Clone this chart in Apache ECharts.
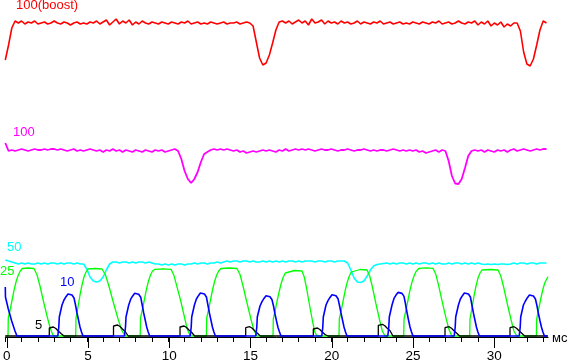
<!DOCTYPE html>
<html>
<head>
<meta charset="utf-8">
<script src="https://cdn.jsdelivr.net/npm/echarts@6/dist/echarts.min.js"></script>
<style>
html,body{margin:0;padding:0;background:#fff;}
#chart{width:570px;height:363px;}
</style>
</head>
<body>
<div id="chart"></div>
<script>
// time axis (ms)
const xTicks = [0, 5, 10, 15, 20, 25, 30];
const xUnit = 'мс';
// sampled traces (one sample per SAMPLE_MS), values = trace level in screen-units above baseline
const SAMPLE_MS = 0.2;
const red100boost = [
 277,292,309,316,
 314,316,313,315,314,316,313,314,315,313,314,316,314,313,315,314,312,314,315,313,314,
 313,315,314,316,313,315,317,312,315,318,313,316,314,317,312,315,313,316,314,313,315,314,313,315,314,
 313,315,314,313,315,314,316,313,314,315,313,314,313,315,314,313,314,315,313,314,314,315,313,314,315,
 314,311,295,279,272,274,282,294,307,315,316,
 314,316,313,315,317,314,316,312,318,314,315,317,313,316,314,315,313,316,314,315,313,314,316,313,315,
 314,313,315,314,316,313,314,315,313,314,315,313,314,313,315,314,313,315,314,313,315,314,316,313,314,
 315,313,314,316,314,313,315,314,316,312,315,313,316,311,314,312,315,310,313,311,314,
 314,306,285,273,271,278,292,307,316,314
];
const magenta100 = [
 194,186,
 187,186,187,188,187,186,187,188,187,187,188,187,188,188,187,188,187,186,187,188,186,187,186,187,188,
 187,186,187,185,187,186,188,186,187,185,187,186,185,187,186,185,187,186,185,187,186,187,185,186,187,188,
 186,178,166,158,154,158,165,175,183,185,187,
 188,187,188,187,188,187,186,187,185,186,184,185,186,185,186,187,186,187,186,185,187,186,188,186,187,188,
 187,188,187,188,187,186,187,188,187,187,188,187,186,187,187,188,187,186,187,187,188,187,186,187,186,187,
 187,186,187,188,187,186,187,186,187,186,187,185,186,184,185,186,187,185,187,
 186,176,161,153.5,153,158,169,181,186,187,
 186,187,185,187,186,185,187,186,187,185,187,188,186,187,188,187,186,187,188,187,188,188
];
const cyan50 = [
 77,76,75,74,
 73,74,73,74,73,73,74,73,74,73,74,74,73,74,73,74,74,73,74,73,
 73,68,60,56,55,56,60,67,73,75,
 75,74,75,75,74,75,74,75,75,74,
 75,74,73,73,72,73,72,73,72,73,
 73,72,73,73,74,73,74,74,73,74,
 74,75,74,75,76,75,76,76,75,76,
 76,75,76,75,75,76,75,76,75,76,
 75,76,75,76,76,75,76,75,76,76,
 76,75,76,76,75,76,76,75,76,76,
 76,74,67,59,55,54.5,56,61,67,71,72.5,73,
 73.5,74,73,74,73,74,74,73,74,73,74,73,74,74,73,74,73,74,73,73,74,73,74,74,73,74,73,74,73,74,
 73,72.5,73,72.5,73,72.5,73,73,72.5,73,74,73,74,74,73,74,74,73,74,74,74
];
// [ms, level] pairs
const green25 = [
 [0,1],[0.166,1],[0.184,19],[0.307,28],[0.429,38],[0.552,48],[0.675,56],[0.798,62],[0.920,66],[1.043,68.5],[1.393,69],[1.761,68.5],[1.939,62.5],[2.120,51.5],[2.359,34.5],[2.598,18.5],[2.779,7.5],[2.957,1],
 [4.319,1],[4.337,19],[4.460,30],[4.583,42],[4.706,52],[4.828,60],[4.951,65],[5.074,68],[5.503,68.5],[5.933,68],[6.147,62],[6.356,51],[6.638,34],[6.920,18],[7.135,7],[7.344,1],
 [8.276,1],[8.294,19],[8.417,28],[8.540,38],[8.663,48],[8.785,56],[8.908,62],[9.031,66],[9.184,67.7],[9.675,68.2],[10.166,67.7],[10.344,61.7],[10.525,50.7],[10.764,36],[11.003,19],[11.184,6.7],[11.362,1],
 [12.337,1],[12.356,19],[12.479,28],[12.601,38],[12.724,48],[12.847,56],[12.969,62],[13.092,66],[13.233,68.5],[13.724,69],[14.215,68.5],[14.399,62.5],[14.577,51.5],[14.822,34.5],[15.061,18.5],[15.239,7.5],[15.423,1],
 [16.423,1],[16.442,18],[16.564,27],[16.687,37],[16.810,46],[16.933,54],[17.055,60],[17.178,64],[17.282,66],[17.742,66.5],[18.202,66],[18.340,60],[18.479,49],[18.663,32],[18.847,16],[18.985,5],[19.123,1],
 [20.472,1],[20.491,18],[20.613,27],[20.736,37],[20.859,47],[20.982,55],[21.104,61],[21.227,65],[21.331,67],[21.761,67.5],[22.190,67],[22.356,61],[22.521,50],[22.742,33],[22.963,17],[23.129,6],[23.294,1],
 [24.442,1],[24.460,18],[24.583,27],[24.706,37],[24.828,47],[24.951,55],[25.074,61],[25.196,65.5],[25.380,68.7],[25.810,69.2],[26.239,68.7],[26.411,62.7],[26.583,51.7],[26.813,34.7],[27.043,18.7],[27.215,7.7],[27.387,1],
 [28.491,1],[28.509,18],[28.632,29],[28.755,41],[28.877,51],[29.000,59],[29.123,64],[29.245,67],[29.736,67.5],[30.227,67],[30.399,61],[30.571,50],[30.801,33],[31.031,17],[31.202,6],[31.374,1],
 [32.583,1],[32.601,18],[32.724,28],[32.847,38],[32.969,47],[33.092,54],[33.215,58],[33.294,60.3]
];
const blue10 = [
 [0,50],[0.01,40],[0.184,28],[0.393,16],[0.595,6],[0.718,1],
 [3.221,1],[3.282,10],[3.313,20],[3.479,32],[3.601,37],[3.724,40.3],[3.847,43],[3.969,43.7],[4.092,42],[4.215,39],[4.307,32],[4.399,24],[4.491,17],[4.583,10],[4.675,5],[4.767,1],
 [7.313,1],[7.374,10],[7.405,20],[7.571,32],[7.693,37.8],[7.816,41.1],[7.939,43.8],[8.061,44.5],[8.184,42.8],[8.307,39.8],[8.399,32],[8.491,24],[8.583,17],[8.675,10],[8.767,5],[8.859,1],
 [11.344,1],[11.405,10],[11.436,20],[11.602,32],[11.724,38],[11.847,41.3],[11.970,44],[12.092,44.7],[12.215,43],[12.338,40],[12.430,32],[12.522,24],[12.614,17],[12.706,10],[12.798,5],[12.890,1],
 [15.368,1],[15.429,10],[15.460,20],[15.626,31],[15.748,35.3],[15.871,38.6],[15.994,41.3],[16.116,42],[16.239,40.3],[16.362,37.3],[16.454,31],[16.546,23],[16.638,16],[16.730,9.5],[16.822,5],[16.914,1],
 [19.417,1],[19.478,10],[19.509,20],[19.675,32],[19.797,36.3],[19.920,39.6],[20.043,42.3],[20.165,43],[20.288,41.3],[20.411,38.3],[20.503,31.5],[20.595,24],[20.687,17],[20.779,10],[20.871,5],[20.963,1],
 [23.466,1],[23.527,10],[23.558,20],[23.724,32],[23.846,38.6],[23.969,41.9],[24.092,44.6],[24.214,45.3],[24.337,43.6],[24.460,40.6],[24.552,33],[24.644,24.5],[24.736,17],[24.828,10],[24.920,5],[25.012,1],
 [27.540,1],[27.601,10],[27.632,20],[27.798,32],[27.920,38],[28.043,41.3],[28.166,44],[28.288,44.7],[28.411,43],[28.534,40],[28.626,32],[28.718,24],[28.810,17],[28.902,10],[28.994,5],[29.086,1],
 [31.528,1],[31.589,10],[31.620,20],[31.786,32],[31.908,36],[32.031,39.3],[32.154,42],[32.276,42.7],[32.399,41],[32.522,38],[32.614,31.5],[32.706,23.5],[32.798,16.5],[32.890,10],[32.982,5],[33.074,1],
 [33.28,1]
];
const black5 = [
 [0,1],
 [2.699,1],[2.700,9],[2.799,10],[2.949,10],[3.099,8.5],[3.249,6],[3.419,3.5],[3.599,1],
 [6.638,1],[6.639,11],[6.738,12],[6.888,12],[7.038,10.5],[7.188,8],[7.358,5.5],[7.538,1],
 [10.718,1],[10.719,10],[10.818,11],[10.968,11],[11.118,9.5],[11.268,7],[11.438,4.5],[11.618,1],
 [14.748,1],[14.749,9.3],[14.848,10.3],[14.998,10.3],[15.148,8.8],[15.298,6.3],[15.468,3.8],[15.648,1],
 [18.896,1],[18.897,8],[18.996,9],[19.146,9],[19.296,7.5],[19.446,5],[19.616,2.5],[19.796,1],
 [22.883,1],[22.884,11.7],[22.983,12.7],[23.133,12.7],[23.283,11.2],[23.433,8.7],[23.603,6.2],[23.783,1],
 [26.975,1],[26.976,9.3],[27.075,10.3],[27.225,10.3],[27.375,8.8],[27.525,6.3],[27.695,3.8],[27.875,1],
 [30.963,1],[30.964,9.3],[31.063,10.3],[31.213,10.3],[31.363,8.8],[31.513,6.3],[31.683,3.8],[31.863,1],
 [33.28,1]
];
const traceNames = ['100(boost)', '100', '50', '25', '10', '5'];

const FONT = '"Liberation Sans", Arial, sans-serif';
const sampled = arr => arr.map((v, i) => [+(i * SAMPLE_MS).toFixed(2), v]);

const chart = echarts.init(document.getElementById('chart'), null, {renderer: 'canvas'});

function mkLine(name, data, color, width) {
  return {
    name, type: 'line', data, xAxisIndex: 0, yAxisIndex: 0,
    showSymbol: false, symbol: 'none', silent: true, animation: false,
    lineStyle: {color, width}, itemStyle: {color}
  };
}

const labelSpec = [
  {text: traceNames[0], x: 16, y: 5, fill: '#ff0000'},
  {text: traceNames[1], x: 13, y: 132, fill: '#ff00ff'},
  {text: traceNames[2], x: 7, y: 247, fill: '#00ffff'},
  {text: traceNames[3], x: 0, y: 271.5, fill: '#00ff00'},
  {text: traceNames[4], x: 60, y: 282, fill: '#0000ff'},
  {text: traceNames[5], x: 35, y: 325.5, fill: '#000000'},
  {text: xUnit, x: 552, y: 338, fill: '#000000'}
];

chart.setOption({
  backgroundColor: '#ffffff',
  animation: false,
  grid: [
    {left: 5.3, top: 0, width: 542.8, height: 337},
    {left: 5.3, top: 0, width: 537.9, height: 337},
    {left: 5.3, top: 0, width: 489, height: 337}
  ],
  xAxis: [
    {gridIndex: 0, type: 'value', min: 0, max: 33.3,
     axisLine: {show: true, lineStyle: {color: '#000', width: 1}},
     axisTick: {show: false}, axisLabel: {show: false}, splitLine: {show: false}},
    {gridIndex: 1, type: 'value', min: 0, max: 33, interval: 1,
     axisLine: {show: false}, axisTick: {show: true, length: 5, lineStyle: {color: '#000', width: 1}},
     axisLabel: {show: false}, splitLine: {show: false}},
    {gridIndex: 2, type: 'value', min: 0, max: 30, interval: 5,
     axisLine: {show: false}, axisTick: {show: true, length: 11, lineStyle: {color: '#000', width: 1}},
     axisLabel: {show: true, color: '#000', fontSize: 13.5, fontFamily: FONT, margin: 12,
       formatter: v => xTicks.indexOf(v) >= 0 ? String(v) : ''},
     splitLine: {show: false}}
  ],
  yAxis: [
    {gridIndex: 0, type: 'value', min: 0, max: 337, show: false},
    {gridIndex: 1, type: 'value', min: 0, max: 1, show: false},
    {gridIndex: 2, type: 'value', min: 0, max: 1, show: false}
  ],
  series: [
    mkLine(traceNames[2], sampled(cyan50), '#00ffff', 1.6),
    mkLine(traceNames[3], green25, '#00ff00', 1.3),
    mkLine(traceNames[5], black5, '#000000', 1.3),
    mkLine(traceNames[4], blue10, '#0000ff', 1.6),
    mkLine(traceNames[1], sampled(magenta100), '#ff00ff', 1.8),
    mkLine(traceNames[0], sampled(red100boost), '#ff0000', 1.6)
  ],
  graphic: labelSpec.map(l => ({
    type: 'text', x: l.x, y: l.y, silent: true,
    style: {text: l.text, fill: l.fill, font: '13px ' + FONT, align: 'left', verticalAlign: 'middle'}
  }))
});
</script>
</body>
</html>
